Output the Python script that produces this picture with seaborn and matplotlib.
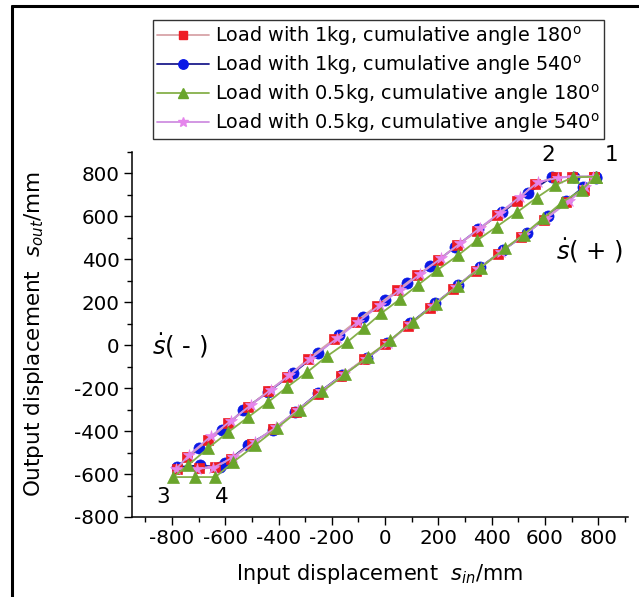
import numpy as np
import pandas as pd
import matplotlib
matplotlib.use("Agg")
import matplotlib.pyplot as plt
from matplotlib.lines import Line2D
from matplotlib.ticker import MultipleLocator
import seaborn as sns

# ---------------- data ----------------
labels = [
    "Load with 1kg, cumulative angle 180$^\\mathregular{o}$",
    "Load with 1kg, cumulative angle 540$^\\mathregular{o}$",
    "Load with 0.5kg, cumulative angle 180$^\\mathregular{o}$",
    "Load with 0.5kg, cumulative angle 540$^\\mathregular{o}$",
]

red_x = [785, 700, 640, 562, 495, 420, 345, 270, 199, 120,
         45, -30, -110, -190, -290, -368, -440, -514, -589, -664,
         -743, -780, -700, -637, -580, -500, -420, -335, -250, -165,
         -80, 0, 85, 170, 255, 340, 425, 510, 595, 680,
         745, 785]
red_y = [785, 785, 782, 753, 674, 605, 530, 465, 395, 326,
         256, 185, 110, 30, -65, -149, -215, -288, -363, -442,
         -521, -575, -570, -567, -530, -460, -390, -310, -225, -145,
         -65, 5, 88, 175, 260, 345, 425, 505, 585, 665,
         725, 782]

blue_x = [790, 710, 625, 535, 440, 350, 262, 170, 82, 0,
          -82, -172, -252, -345, -440, -533, -612, -700, -780, -695,
          -620, -600, -515, -420, -338, -252, -162, -68, 8, 94,
          188, 274, 356, 443, 532, 610, 680, 743, 790]
blue_y = [785, 785, 782, 707, 619, 540, 456, 367, 288, 209,
          130, 47, -37, -130, -219, -302, -395, -479, -567, -560,
          -567, -549, -465, -395, -312, -223, -140, -60, 9, 102,
          195, 279, 363, 442, 521, 600, 672, 735, 781]

green_x = [790, 705, 637, 570, 495, 420, 345, 274, 195, 125,
           55, -15, -80, -143, -218, -293, -368, -439, -514, -589,
           -664, -739, -795, -712, -637, -570, -487, -405, -320, -235,
           -150, -65, 20, 105, 190, 275, 360, 450, 520, 593,
           664, 740, 790]
green_y = [785, 782, 744, 688, 619, 553, 488, 419, 349, 282,
           214, 148, 78, 14, -51, -126, -195, -265, -335, -405,
           -479, -558, -614, -614, -614, -544, -465, -385, -300, -215,
           -135, -55, 25, 110, 192, 278, 362, 451, 515, 591,
           665, 725, 785]

violet_x = [780, 705, 650, 575, 505, 430, 355, 282, 210, 130,
            55, -20, -100, -180, -280, -360, -430, -505, -580, -655,
            -735, -785, -705, -645, -570, -490, -410, -325, -240, -155,
            -70, 10, 95, 180, 265, 350, 435, 520, 605, 690,
            750, 782]
violet_y = [785, 785, 780, 760, 690, 617, 545, 475, 405, 330,
            258, 186, 110, 32, -62, -140, -208, -280, -353, -425,
            -510, -578, -575, -570, -522, -450, -382, -300, -214, -136,
            -62, 10, 100, 185, 270, 355, 435, 512, 590, 670,
            735, 780]

x_ticks = [-800, -600, -400, -200, 0, 200, 400, 600, 800]
y_ticks = [-800, -600, -400, -200, 0, 200, 400, 600, 800]
point_labels = ["1", "2", "3", "4"]
point_x = [851, 611, -832, -611]
point_y = [884, 884, -707, -707]

# ---------------- style ----------------
sns.set_style("ticks")
plt.rcParams["font.family"] = ["DejaVu Sans"]
plt.rcParams["axes.unicode_minus"] = False
plt.rcParams["text.color"] = "black"
plt.rcParams["axes.labelcolor"] = "black"
plt.rcParams["mathtext.fontset"] = "custom"
plt.rcParams["mathtext.rm"] = "DejaVu Sans"
plt.rcParams["mathtext.it"] = "DejaVu Sans:italic"
plt.rcParams["mathtext.bf"] = "DejaVu Sans:bold"

W, H = 639, 597
fig = plt.figure(figsize=(W / 100, H / 100), dpi=100)
ax = fig.add_axes([132 / W, 1 - 517 / H, (628 - 132) / W, (517 - 152) / H])

series = [
    dict(x=red_x, y=red_y, lc="#d8a4a8", mc="#ee1c24", m="s", ms=6.5, z=3),
    dict(x=blue_x, y=blue_y, lc="#1c1c8c", mc="#0a18e6", m="o", ms=8, z=2),
    dict(x=green_x, y=green_y, lc="#86b04a", mc="#6aa52c", m="^", ms=8.5, z=5),
    dict(x=violet_x, y=violet_y, lc="#cf8fe0", mc="#e585ec", m="*", ms=9, z=4),
]

for s, lab in zip(series, labels):
    df = pd.DataFrame({"x": s["x"], "y": s["y"]})
    sns.lineplot(data=df, x="x", y="y", sort=False, estimator=None, ax=ax,
                 color=s["lc"], lw=1.3, marker=s["m"], markersize=s["ms"],
                 markerfacecolor=s["mc"], markeredgecolor=s["mc"],
                 markeredgewidth=0.5, zorder=s["z"], label=lab, legend=False)

ax.set_xlim(-950, 912)
ax.set_ylim(-800, 900)
ax.set_xticks(x_ticks)
ax.set_yticks(y_ticks)
ax.xaxis.set_minor_locator(MultipleLocator(100))
ax.yaxis.set_minor_locator(MultipleLocator(100))
ax.tick_params(which="major", direction="out", length=6, width=1, labelsize=14.3,
               colors="black")
ax.tick_params(which="minor", direction="out", length=3.5, width=1, colors="black")
ax.tick_params(axis="x", pad=3)
ax.tick_params(axis="y", pad=3)
for sp in ["top", "right"]:
    ax.spines[sp].set_visible(False)
for sp in ["left", "bottom"]:
    ax.spines[sp].set_linewidth(1.1)
    ax.spines[sp].set_color("black")

ax.set_xlabel("Input displacement  $\\mathit{s}_{\\mathit{in}}$/mm", fontsize=15, labelpad=10)
ax.set_ylabel("Output displacement  $\\mathit{s}_{\\mathit{out}}$/mm", fontsize=15.5, labelpad=20)

for t, px, py in zip(point_labels, point_x, point_y):
    ax.text(px, py, t, fontsize=15.5, ha="center", va="center")
ax.text(769, 442, "$\\dot{s}$( + )", fontsize=17.5, ha="center", va="center")
ax.text(-769, 0, "$\\dot{s}$( - )", fontsize=17.5, ha="center", va="center")

handles = [Line2D([0], [0], color=s["lc"], lw=1.3, marker=s["m"], markersize=s["ms"] * 0.85,
                  markerfacecolor=s["mc"], markeredgecolor=s["mc"]) for s in series]
leg = fig.legend(handles, labels, loc="upper left",
                 bbox_to_anchor=(153 / W, 1 - 20 / H), borderaxespad=0,
                 fontsize=13.9, frameon=True, fancybox=False, handlelength=2.7,
                 handletextpad=0.3, labelspacing=0.27, borderpad=0.2)
leg.get_frame().set_edgecolor("black")
leg.get_frame().set_linewidth(1.0)

# figure frame lines (left and top)
fig.add_artist(Line2D([12 / W, 12 / W], [0, 1 - 6 / H], transform=fig.transFigure,
                      color="black", lw=2.2))
fig.add_artist(Line2D([12 / W, 1], [1 - 6 / H, 1 - 6 / H], transform=fig.transFigure,
                      color="black", lw=2.2))

fig.savefig("out.png", dpi=100)
